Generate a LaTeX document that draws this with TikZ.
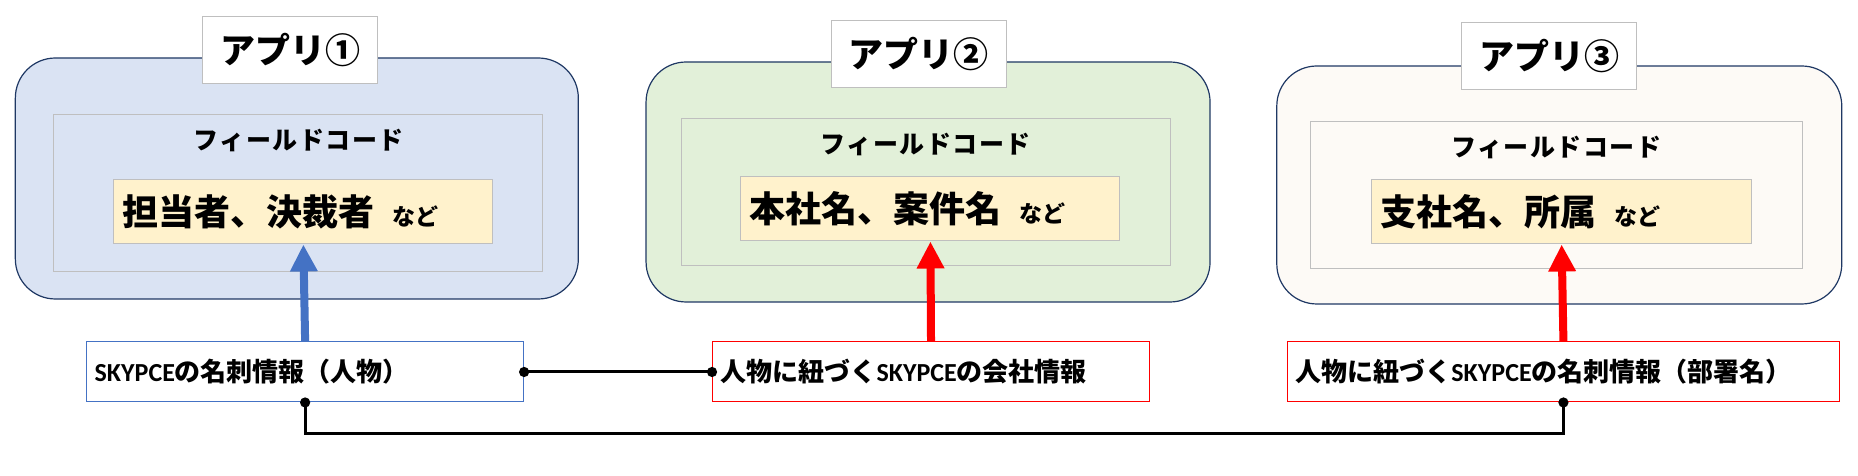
\documentclass[tikz,border=0pt]{standalone}
\usepackage{fontspec}
\setmainfont{Noto Sans CJK JP}
\newfontfamily\skyfont{Carlito}[BoldFont={Carlito Bold}]
\usetikzlibrary{arrows.meta}
\definecolor{appBlue}{HTML}{DAE3F3}
\definecolor{appGreen}{HTML}{E2F0D9}
\definecolor{appCream}{HTML}{FDFAF6}
\definecolor{appEdge}{HTML}{1F3864}
\definecolor{boxGray}{HTML}{BFBFBF}
\definecolor{itemYellow}{HTML}{FFF2CC}
\definecolor{linkBlue}{HTML}{4472C4}
\definecolor{linkRed}{HTML}{FF0000}
\newcommand{\sky}{{\skyfont\bfseries SKYPCE}}
\newcommand{\nado}{\hspace{18pt}{\fontsize{23}{26}\selectfont など}}

\begin{document}
\begin{tikzpicture}[x=1.185pt, y=-1pt,
	appbox/.style={draw=appEdge, line width=1.2pt, rounded corners=40pt, inner sep=0pt},
	titlebox/.style={draw=boxGray, fill=white, line width=1pt, minimum width=175pt, minimum height=67pt, inner sep=0pt, font=\bfseries\fontsize{35}{40}\selectfont},
	fieldbox/.style={draw=boxGray, line width=1pt, inner sep=0pt},
	fieldlabel/.style={font=\bfseries\fontsize{25}{28}\selectfont\addfontfeatures{LetterSpace=6}, inner sep=0pt},
	itembox/.style={draw=boxGray, fill=itemYellow, line width=1pt, minimum height=64pt, inner sep=9pt, align=left, font=\bfseries\fontsize{36}{40}\selectfont},
	infobox/.style={fill=white, line width=1pt, minimum height=60pt, inner sep=8pt, align=left, font=\bfseries\fontsize{26}{30}\selectfont},
	fatarrow/.style={line width=8pt, -{Triangle[length=27pt, width=26pt]}},
	link/.style={line width=3pt, {Circle[length=10pt]}-{Circle[length=10pt]}, shorten <=-5pt, shorten >=-5pt}]
	\useasboundingbox (0,0) rectangle (1568,476);

	\node[appbox, fill=appBlue,  minimum width=563pt, minimum height=241pt] (app1) at (250.5,178.5) {};
	\node[appbox, fill=appGreen, minimum width=564pt, minimum height=240pt] (app2) at (783.2,182) {};
	\node[appbox, fill=appCream, minimum width=565pt, minimum height=238pt] (app3) at (1315.9,185) {};

	\node[titlebox] (title1) at (245,50.5) {アプリ①};
	\node[titlebox] (title2) at (775.2,54) {アプリ②};
	\node[titlebox] (title3) at (1307.4,56.5) {アプリ③};

	\node[fieldbox, minimum width=489pt, minimum height=157pt] (field1) at (251.5,193.5) {};
	\node[fieldbox, minimum width=489pt, minimum height=147pt] (field2) at (781.7,192.5) {};
	\node[fieldbox, minimum width=492pt, minimum height=147pt] (field3) at (1313.9,195.5) {};

	\node[fieldlabel] (flabel1) at (252,140) {フィールドコード};
	\node[fieldlabel] (flabel2) at (781.2,144) {フィールドコード};
	\node[fieldlabel] (flabel3) at (1313.4,147) {フィールドコード};

	\node[itembox, text width=361pt] (item1) at (256,212) {担当者、決裁者\nado};
	\node[itembox, text width=361pt] (item2) at (785.2,209) {本社名、案件名\nado};
	\node[itembox, text width=362pt] (item3) at (1317.9,212) {支社名、所属\nado};

	\node[infobox, draw=linkBlue, text width=421pt] (info1) at (257.5,372) {\sky の名刺情報（人物）};
	\node[infobox, draw=linkRed,  text width=421pt] (info2) at (785.7,372) {人物に紐づく\sky の会社情報};
	\node[infobox, draw=linkRed,  text width=536pt] (info3) at (1319.4,372) {人物に紐づく\sky の名刺情報（部署名）};

	\draw[fatarrow, linkBlue] (info1.north) -- (item1.south);
	\draw[fatarrow, linkRed]  (info2.north) -- (item2.south);
	\draw[fatarrow, linkRed]  (info3.north) -- (item3.south);

	\draw[link] (info1.east) -- (info2.west);
	\draw[link] (info1.south) -- ++(0,31) -| (info3.south);
\end{tikzpicture}
\end{document}
